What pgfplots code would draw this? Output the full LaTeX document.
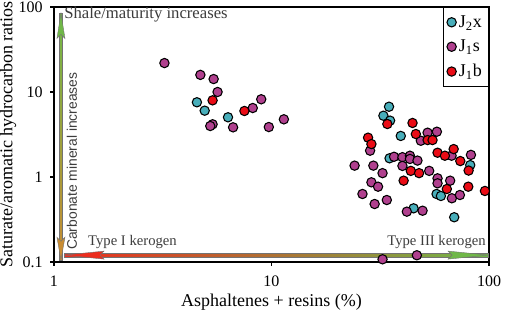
\documentclass[border=0pt]{standalone}
\usepackage{pgfplots}
\pgfplotsset{compat=1.18}
\usepackage{fontspec}
\setmainfont{Liberation Serif}
\newfontfamily\sansf{Liberation Sans}
\definecolor{cJx}{RGB}{72,174,186}
\definecolor{cJs}{RGB}{176,64,142}
\definecolor{cJb}{RGB}{234,12,22}
\definecolor{agreen}{RGB}{112,184,72}
\definecolor{atan}{RGB}{200,140,50}
\definecolor{ared}{RGB}{236,45,30}
\definecolor{aolive}{RGB}{175,145,60}
\definecolor{txtgray}{RGB}{60,60,60}

\pgfplotstableread{
x y
4.54 7.57
4.93 6.03
6.31 5.04
34.7 6.71
32.7 5.26
35.1 4.60
39.3 3.04
82.0 1.38
34.9 1.66
57.4 0.631
60.1 0.598
45.0 0.428
69.2 0.336
}\tJx

\pgfplotstableread{
x y
3.22 21.9
4.71 15.9
5.42 14.2
5.65 10.0
5.36 4.17
5.23 3.98
6.66 3.84
8.20 6.48
8.97 8.21
9.72 3.87
11.4 4.77
52.2 3.32
57.6 3.41
48.6 2.67
28.4 2.04
67.3 1.78
82.6 1.82
24.1 1.36
29.4 1.36
32.4 1.11
36.6 1.73
40.0 1.71
43.3 1.78
43.3 1.63
46.9 1.56
40.0 1.35
53.1 1.18
58.0 0.965
58.0 0.843
66.3 0.905
28.8 0.866
30.9 0.769
26.2 0.631
67.5 0.562
73.5 0.614
29.8 0.481
33.9 0.536
41.9 0.391
49.5 0.401
32.4 0.1076
46.6 0.120
}\tJs

\pgfplotstableread{
x y
5.36 7.98
7.51 5.98
34.1 4.20
44.5 4.32
46.1 3.20
52.2 2.72
55.0 2.72
27.8 2.90
28.8 2.44
58.0 1.93
62.7 1.78
68.8 2.13
73.8 1.54
80.6 1.19
43.7 1.18
47.7 1.11
40.5 0.905
64.0 0.722
80.3 0.769
95.8 0.685
}\tJb

\begin{document}
\begin{tikzpicture}
\begin{axis}[
  scale only axis, width=326.25pt, height=191.25pt,
  xmode=log, ymode=log, xmin=1, xmax=100, ymin=0.1, ymax=100,
  xtick={1,10,100}, xticklabels={1,10,100},
  ytick={0.1,1,10,100}, yticklabels={0.1,1,10,100},
  xminorticks=false, yminorticks=false,
  tick align=outside, xtick pos=bottom, ytick pos=left,
  major tick length=3pt,
  axis line style={line width=1pt},
  every tick/.style={black, line width=0.8pt},
  ticklabel style={font=\fontsize{12}{14}\selectfont},
  xticklabel style={yshift=-4pt},
  yticklabel style={xshift=-2pt},
  label style={font=\fontsize{13.5}{16}\selectfont},
  xlabel={Asphaltenes + resins (\%)},
  ylabel={Saturate/aromatic hydrocarbon ratios},
  xlabel style={at={(axis description cs:0.5,0)}, anchor=center, yshift=-30pt},
  ylabel style={at={(axis description cs:-0.1057,0.5)}, anchor=center},
  legend style={at={(1,1)}, anchor=north east, font=\fontsize{13.5}{16}\selectfont,
    draw=black, line width=0.6pt, row sep=4pt, inner xsep=3pt, inner ysep=4pt},
  legend cell align=left,
]
\coordinate (BL) at (rel axis cs:0,0);
\coordinate (TR) at (rel axis cs:1,1);
% horizontal arrow
\coordinate (HL) at (rel axis cs:0.023,0.027);
\coordinate (HR) at (rel axis cs:0.998,0.027);
\shade[left color=ared, middle color=aolive, right color=agreen]
  ([yshift=-1.2pt]HL) rectangle ([yshift=1.2pt]HR);
\draw[black!55, line width=0.3pt] ([yshift=-1.2pt]HL) rectangle ([yshift=1.2pt]HR);
\filldraw[fill=ared, draw=black!55, line width=0.3pt] (HL) -- ([shift={(30pt,3pt)}]HL) -- ([shift={(27pt,0pt)}]HL) -- ([shift={(30pt,-3pt)}]HL) -- cycle;
\filldraw[fill=agreen, draw=black!55, line width=0.3pt] (HR) -- ([shift={(-30pt,3pt)}]HR) -- ([shift={(-27pt,0pt)}]HR) -- ([shift={(-30pt,-3pt)}]HR) -- cycle;
% vertical arrow
\coordinate (VB) at (rel axis cs:0.016,0.008);
\coordinate (VT) at (rel axis cs:0.016,0.976);
\shade[top color=agreen, bottom color=atan]
  ([xshift=-1.2pt]VB) rectangle ([xshift=1.2pt]VT);
\draw[black!55, line width=0.3pt] ([xshift=-1.2pt]VB) rectangle ([xshift=1.2pt]VT);
\filldraw[fill=agreen, draw=black!55, line width=0.3pt] (VT) -- ([shift={(3pt,-19pt)}]VT) -- ([shift={(0pt,-16pt)}]VT) -- ([shift={(-3pt,-19pt)}]VT) -- cycle;
\filldraw[fill=atan, draw=black!55, line width=0.3pt] (VB) -- ([shift={(3pt,17pt)}]VB) -- ([shift={(0pt,14pt)}]VB) -- ([shift={(-3pt,17pt)}]VB) -- cycle;
% annotations
\node[anchor=west, font=\fontsize{12.5}{14}\selectfont, text=txtgray, inner sep=0pt] at (rel axis cs:0.023,0.969) {Shale/maturity increases};
\node[anchor=west, rotate=90, font=\sansf\fontsize{10.4}{12}\selectfont, text=txtgray, inner sep=0pt] at (rel axis cs:0.041,0.047) {Carbonate mineral increases};
\node[anchor=west, font=\fontsize{11}{13}\selectfont, text=txtgray, inner sep=0pt] at (rel axis cs:0.078,0.078) {Type I kerogen};
\node[anchor=east, font=\fontsize{11}{13}\selectfont, text=txtgray, inner sep=0pt] at (rel axis cs:0.993,0.078) {Type III kerogen};

\addplot[only marks, mark=*, mark size=3.5pt, mark options={fill=cJx, draw=black, line width=0.8pt}] table[x=x,y=y] {\tJx};
\addlegendentry{J\textsubscript{2}x}
\addplot[only marks, mark=*, mark size=3.5pt, mark options={fill=cJs, draw=black, line width=0.8pt}] table[x=x,y=y] {\tJs};
\addlegendentry{J\textsubscript{1}s}
\addplot[only marks, mark=*, mark size=3.5pt, mark options={fill=cJb, draw=black, line width=0.8pt}] table[x=x,y=y] {\tJb};
\addlegendentry{J\textsubscript{1}b}
\end{axis}
\pgfresetboundingbox
\path ([shift={(-40.5pt,-37.5pt)}]BL) rectangle ([shift={(12pt,5.25pt)}]TR);
\end{tikzpicture}
\end{document}
